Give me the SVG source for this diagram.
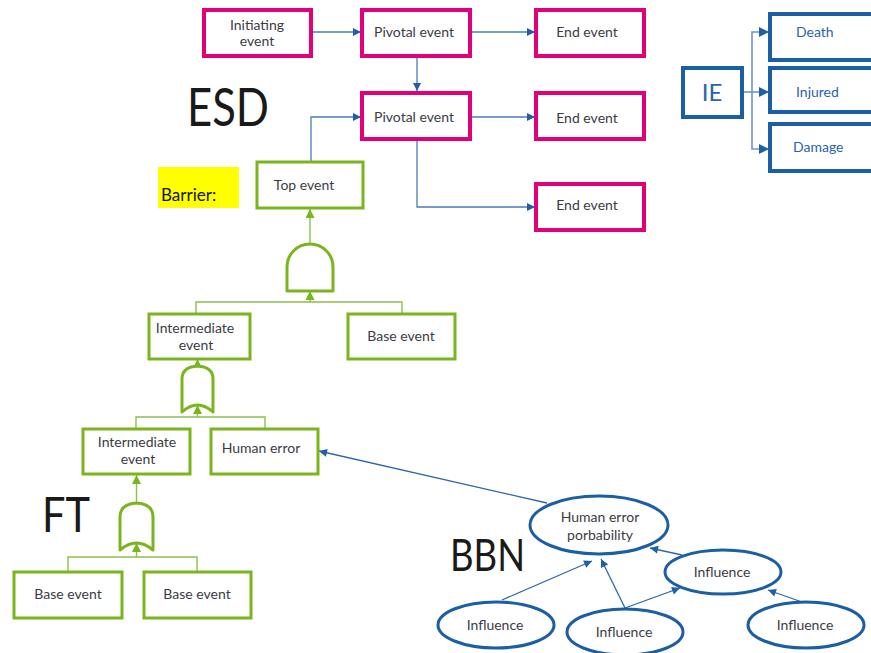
<svg xmlns="http://www.w3.org/2000/svg" width="871" height="653" viewBox="0 0 871 653">
  <style>
    .esd { fill: #fff; stroke: #e2007a; stroke-width: 4; }
    .ft { fill: #fff; stroke: #7ab51d; stroke-width: 3; }
    .gate { fill: #fff; stroke: #7ab51d; stroke-width: 3; stroke-linejoin: round; }
    .ie { fill: #fff; stroke: #1b5ea4; stroke-width: 4; }
    .bbn { fill: #fff; stroke: #1b5ea4; stroke-width: 3; }
    .lbl { font-family: Lato, "Liberation Sans", sans-serif; font-size: 14px; fill: #3b3b45; text-anchor: middle; }
    .blbl { font-family: Lato, "Liberation Sans", sans-serif; font-size: 14px; fill: #2b63ab; }
    .big { font-family: Lato, "Liberation Sans", sans-serif; fill: #1a1a1a; }
    .c-blue { fill: none; stroke: #4a7cbb; stroke-width: 1.3; }
    .c-ie { fill: none; stroke: #6f95c8; stroke-width: 1.6; }
    .c-green { fill: none; stroke: #8cc04a; stroke-width: 1.4; }
    .c-bbn { fill: none; stroke: #2f66aa; stroke-width: 1.3; }
  </style>
  <defs>
    <marker id="arrBlue" viewBox="0 0 10 10" refX="10" refY="5" markerWidth="9" markerHeight="8" markerUnits="userSpaceOnUse" orient="auto">
      <path d="M0,0 L10,5 L0,10 z" fill="#1f5fa6"/>
    </marker>
    <marker id="arrIE" viewBox="0 0 10 10" refX="10" refY="5" markerWidth="11" markerHeight="10" markerUnits="userSpaceOnUse" orient="auto">
      <path d="M0,0 L10,5 L0,10 z" fill="#1f5fa6"/>
    </marker>
    <marker id="arrGreen" viewBox="0 0 10 10" refX="10" refY="5" markerWidth="9" markerHeight="9" markerUnits="userSpaceOnUse" orient="auto">
      <path d="M0,0 L10,5 L0,10 z" fill="#7ab51d"/>
    </marker>
  </defs>

  <rect width="871" height="653" fill="#fff"/>

  <!-- section titles -->
  <text class="big" x="187" y="126" font-size="52" textLength="82" lengthAdjust="spacingAndGlyphs">ESD</text>
  <text class="big" x="42" y="532" font-size="48" textLength="48" lengthAdjust="spacingAndGlyphs">FT</text>
  <text class="big" x="450" y="571" font-size="44" textLength="75" lengthAdjust="spacingAndGlyphs">BBN</text>

  <!-- barrier note -->
  <g id="barrier">
    <rect x="158" y="167" width="81" height="41" fill="#ffff00"/>
    <text x="161" y="201" font-family="Lato, 'Liberation Sans', sans-serif" font-size="17" fill="#111">Barrier:</text>
  </g>

  <!-- connectors -->
  <g id="connectors">
    <!-- event sequence -->
    <path class="c-blue" d="M312,32 H361" marker-end="url(#arrBlue)"/>
    <path class="c-blue" d="M470,32 H535" marker-end="url(#arrBlue)"/>
    <path class="c-blue" d="M417,57 V91" marker-end="url(#arrBlue)"/>
    <path class="c-blue" d="M470,117 H535" marker-end="url(#arrBlue)"/>
    <path class="c-blue" d="M417,140 V207 H535" marker-end="url(#arrBlue)"/>
    <path class="c-blue" d="M311,162 V117 H361" marker-end="url(#arrBlue)"/>
    <!-- consequences -->
    <path class="c-ie" d="M742,92 H769" marker-end="url(#arrIE)"/>
    <path class="c-ie" d="M752,92 V32 H769" marker-end="url(#arrIE)"/>
    <path class="c-ie" d="M752,92 V149 H769" marker-end="url(#arrIE)"/>
    <!-- fault tree -->
    <path class="c-green" d="M310,245 V209" marker-end="url(#arrGreen)"/>
    <path class="c-green" d="M196,313 V302 H402 V313"/>
    <path class="c-green" d="M310,302 V291" marker-end="url(#arrGreen)"/>
    <path class="c-green" d="M197.5,366 V359" marker-end="url(#arrGreen)"/>
    <path class="c-green" d="M136,428 V417 H265 V428"/>
    <path class="c-green" d="M197.5,417 V405" marker-end="url(#arrGreen)"/>
    <path class="c-green" d="M136.5,503 V475" marker-end="url(#arrGreen)"/>
    <path class="c-green" d="M68,571 V557 H197 V571"/>
    <path class="c-green" d="M136.5,557 V543" marker-end="url(#arrGreen)"/>
    <!-- belief network -->
    <path class="c-bbn" d="M547,503 L319,451" marker-end="url(#arrBlue)"/>
    <path class="c-bbn" d="M502,600 L592,561" marker-end="url(#arrBlue)"/>
    <path class="c-bbn" d="M625,608 L601,559" marker-end="url(#arrBlue)"/>
    <path class="c-bbn" d="M625,608 L680,588" marker-end="url(#arrBlue)"/>
    <path class="c-bbn" d="M682,555 L650,548" marker-end="url(#arrBlue)"/>
    <path class="c-bbn" d="M802,602 L768,590" marker-end="url(#arrBlue)"/>
  </g>

  <!-- event sequence diagram -->
  <g id="initiating-event">
    <rect class="esd" x="204" y="10" width="107" height="46"/>
    <text class="lbl" x="257" y="30" font-size="13">Initiating</text>
    <text class="lbl" x="257" y="46" font-size="13">event</text>
  </g>
  <g id="pivotal-event-1">
    <rect class="esd" x="362" y="10" width="108" height="46"/>
    <text class="lbl" x="414" y="37">Pivotal event</text>
  </g>
  <g id="end-event-1">
    <rect class="esd" x="536" y="10" width="108" height="46"/>
    <text class="lbl" x="587" y="37">End event</text>
  </g>
  <g id="pivotal-event-2">
    <rect class="esd" x="362" y="93" width="108" height="46"/>
    <text class="lbl" x="414" y="122">Pivotal event</text>
  </g>
  <g id="end-event-2">
    <rect class="esd" x="536" y="93" width="108" height="46"/>
    <text class="lbl" x="587" y="123">End event</text>
  </g>
  <g id="end-event-3">
    <rect class="esd" x="536" y="184" width="108" height="46"/>
    <text class="lbl" x="587" y="210">End event</text>
  </g>

  <!-- consequence tree -->
  <g id="ie">
    <rect class="ie" x="683" y="68" width="59" height="49"/>
    <text x="712" y="101" font-family="Lato, 'Liberation Sans', sans-serif" font-size="24" fill="#2b63ab" text-anchor="middle">IE</text>
  </g>
  <g id="death">
    <rect class="ie" x="770" y="14" width="110" height="46"/>
    <text class="blbl" x="796" y="37">Death</text>
  </g>
  <g id="injured">
    <rect class="ie" x="770" y="68" width="110" height="44"/>
    <text class="blbl" x="796" y="97">Injured</text>
  </g>
  <g id="damage">
    <rect class="ie" x="770" y="124" width="110" height="47"/>
    <text class="blbl" x="793" y="152">Damage</text>
  </g>

  <!-- fault tree -->
  <g id="top-event">
    <rect class="ft" x="257" y="162" width="106" height="46"/>
    <text class="lbl" x="304" y="190">Top event</text>
  </g>
  <g id="and-gate">
    <path class="gate" d="M287,291 V267 A23,23 0 0 1 333,267 V291 Z"/>
  </g>
  <g id="intermediate-event-1">
    <rect class="ft" x="149" y="314" width="101" height="45"/>
    <text class="lbl" x="195" y="333" font-size="13">Intermediate</text>
    <text class="lbl" x="196" y="350" font-size="13">event</text>
  </g>
  <g id="base-event-1">
    <rect class="ft" x="348" y="314" width="107" height="45"/>
    <text class="lbl" x="401" y="341" font-size="13">Base event</text>
  </g>
  <g id="or-gate-1">
    <path class="gate" d="M182,412 V379 Q182,367 197.5,366 Q213,367 213,379 V412 Q197.5,398 182,412 Z"/>
  </g>
  <g id="intermediate-event-2">
    <rect class="ft" x="83" y="429" width="107" height="45"/>
    <text class="lbl" x="137" y="447" font-size="13">Intermediate</text>
    <text class="lbl" x="138" y="464" font-size="13">event</text>
  </g>
  <g id="human-error">
    <rect class="ft" x="211" y="429" width="107" height="45"/>
    <text class="lbl" x="261" y="453" font-size="13">Human error</text>
  </g>
  <g id="or-gate-2">
    <path class="gate" d="M120,550 V517 Q120,504 136.5,503 Q153,504 153,517 V550 Q136.5,536 120,550 Z"/>
  </g>
  <g id="base-event-2">
    <rect class="ft" x="14" y="572" width="108" height="46"/>
    <text class="lbl" x="68" y="599" font-size="13">Base event</text>
  </g>
  <g id="base-event-3">
    <rect class="ft" x="144" y="572" width="107" height="46"/>
    <text class="lbl" x="197" y="599" font-size="13">Base event</text>
  </g>

  <!-- belief network -->
  <g id="hep">
    <ellipse class="bbn" cx="599" cy="525" rx="69" ry="29"/>
    <text class="lbl" x="600" y="522" font-size="13">Human error</text>
    <text class="lbl" x="600" y="540" font-size="13">porbability</text>
  </g>
  <g id="influence-mid">
    <ellipse class="bbn" cx="723" cy="572" rx="58" ry="22"/>
    <text class="lbl" x="722" y="577" font-size="13">Influence</text>
  </g>
  <g id="influence-left">
    <ellipse class="bbn" cx="496" cy="625" rx="58" ry="23"/>
    <text class="lbl" x="495" y="630" font-size="13">Influence</text>
  </g>
  <g id="influence-center">
    <ellipse class="bbn" cx="625" cy="632" rx="58" ry="23"/>
    <text class="lbl" x="624" y="637" font-size="13">Influence</text>
  </g>
  <g id="influence-right">
    <ellipse class="bbn" cx="806" cy="625" rx="58" ry="23"/>
    <text class="lbl" x="805" y="630" font-size="13">Influence</text>
  </g>
</svg>
